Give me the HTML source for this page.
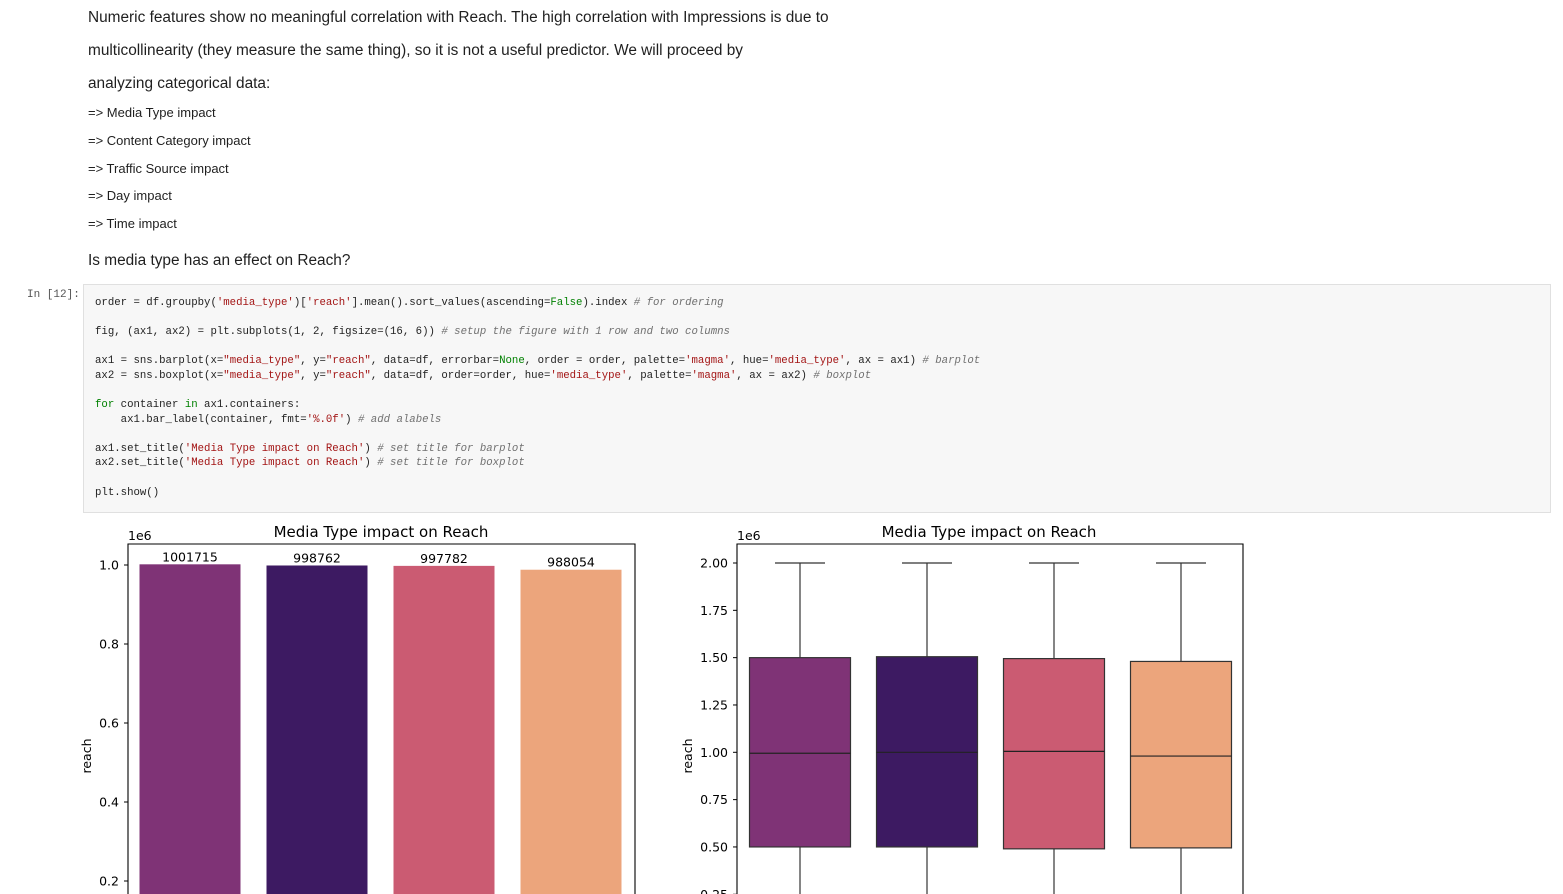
<!DOCTYPE html>
<html><head><meta charset="utf-8">
<style>
body{margin:0;width:1563px;height:894px;overflow:hidden;background:#fff;font-family:"Liberation Sans",sans-serif;color:#1f1f1f;position:relative}
.t{position:absolute;left:88px;white-space:nowrap}
.p{font-size:15.4px}
.li{font-size:13px}
#prompt{position:absolute;left:27px;top:289px;font-family:"Liberation Mono",monospace;font-size:11px;color:#555}
#cell{position:absolute;left:83px;top:284px;width:1466px;height:227px;background:#f7f7f7;border:1px solid #e0e0e0;overflow:hidden}
.c{position:absolute;left:11px;font-family:"Liberation Mono",monospace;font-size:10.7px;white-space:pre;color:#222}
.s{color:#a31515}.k{color:#008000}.cm{color:#707070;font-style:italic}.kw{color:#008000}
svg{position:absolute;left:0;top:0}
</style></head><body>
<div class="t p" style="top:9px">Numeric features show no meaningful correlation with Reach. The high correlation with Impressions is due to</div>
<div class="t p" style="top:42px">multicollinearity (they measure the same thing), so it is not a useful predictor. We will proceed by</div>
<div class="t p" style="top:75px">analyzing categorical data:</div>
<div class="t li" style="top:105px">=&gt; Media Type impact</div>
<div class="t li" style="top:133px">=&gt; Content Category impact</div>
<div class="t li" style="top:161px">=&gt; Traffic Source impact</div>
<div class="t li" style="top:188px">=&gt; Day impact</div>
<div class="t li" style="top:216px">=&gt; Time impact</div>
<div class="t p" style="top:252px">Is media type has an effect on Reach?</div>
<div id="prompt">In [12]:</div>
<div id="cell">
<div class="c" style="top:12px">order = df.groupby(<span class="s">'media_type'</span>)[<span class="s">'reach'</span>].mean().sort_values(ascending=<span class="k">False</span>).index <span class="cm"># for ordering</span></div>
<div class="c" style="top:41px">fig, (ax1, ax2) = plt.subplots(1, 2, figsize=(16, 6)) <span class="cm"># setup the figure with 1 row and two columns</span></div>
<div class="c" style="top:70px">ax1 = sns.barplot(x=<span class="s">"media_type"</span>, y=<span class="s">"reach"</span>, data=df, errorbar=<span class="k">None</span>, order = order, palette=<span class="s">'magma'</span>, hue=<span class="s">'media_type'</span>, ax = ax1) <span class="cm"># barplot</span></div>
<div class="c" style="top:85px">ax2 = sns.boxplot(x=<span class="s">"media_type"</span>, y=<span class="s">"reach"</span>, data=df, order=order, hue=<span class="s">'media_type'</span>, palette=<span class="s">'magma'</span>, ax = ax2) <span class="cm"># boxplot</span></div>
<div class="c" style="top:114px"><span class="kw">for</span> container <span class="kw">in</span> ax1.containers:</div>
<div class="c" style="top:129px">    ax1.bar_label(container, fmt=<span class="s">'%.0f'</span>) <span class="cm"># add alabels</span></div>
<div class="c" style="top:158px">ax1.set_title(<span class="s">'Media Type impact on Reach'</span>) <span class="cm"># set title for barplot</span></div>
<div class="c" style="top:172px">ax2.set_title(<span class="s">'Media Type impact on Reach'</span>) <span class="cm"># set title for boxplot</span></div>
<div class="c" style="top:202px">plt.show()</div>
</div>
<svg id="chart" width="1563" height="894"></svg>
<script>
const colors=["#7f3376","#3d1a62","#cb5b72","#eca57c"];
const barValues=[1001715,998762,997782,988054];
const barTicks=[0.2,0.4,0.6,0.8,1.0];
const boxQ1=[500000,500000,490000,495000];
const boxMedian=[995000,1000000,1005000,980000];
const boxQ3=[1500000,1505000,1495000,1480000];
const boxWhiskerHi=[2000000,2000000,2000000,2000000];
const boxWhiskerLo=[0,0,0,0];
const boxTicks=[0.25,0.5,0.75,1.0,1.25,1.5,1.75,2.0];
const boxTickLabels=["0.25","0.50","0.75","1.00","1.25","1.50","1.75","2.00"];
const NS="http://www.w3.org/2000/svg";
const svg=document.getElementById('chart');
function mk(tag,attrs,parent){const e=document.createElementNS(NS,tag);for(const k in attrs)e.setAttribute(k,attrs[k]);(parent||svg).appendChild(e);return e;}
const F='"DejaVu Sans",sans-serif';
const defs=mk('defs',{});
const cp1=mk('clipPath',{id:'c1'},defs);mk('rect',{x:128,y:544,width:507,height:350},cp1);
const cp2=mk('clipPath',{id:'c2'},defs);mk('rect',{x:737,y:544,width:506,height:350},cp2);
const bx=i=>190+i*127;
const by=v=>565-(v/1e6-1.0)*395;
const g1=mk('g',{'clip-path':'url(#c1)'});
barValues.forEach((v,i)=>{
 const r=mk('rect',{x:bx(i)-50.5,y:by(v),width:101,height:960-by(v),fill:colors[i]},g1);
 
 
 const t=mk('text',{x:bx(i),y:by(v)-3,'text-anchor':'middle','font-size':12.5,'font-family':F,fill:'#000'});
 t.textContent=String(v);
 
 
});
mk('polyline',{points:'128,894 128,544 635,544 635,894',fill:'none',stroke:'#000','stroke-width':1.1});
function txt(x,y,s,size,name,extra){const e=mk('text',Object.assign({x:x,y:y,'font-size':size,'font-family':F,fill:'#000'},extra||{}));e.textContent=s;return e;}
barTicks.forEach(t=>{
 const y=by(t*1e6);
 mk('line',{x1:124,x2:128,y1:y,y2:y,stroke:'#000'});
 txt(119,y+4.5,t.toFixed(1),12.5,'bar-y-tick',{'text-anchor':'end'});
});
txt(128,540,'1e6',12.5,'bar-offset-label');
txt(381,537,'Media Type impact on Reach',15,'bar-title',{'text-anchor':'middle'});
txt(91,756,'reach',12.5,'bar-y-title',{'text-anchor':'middle',transform:'rotate(-90 91 756)'});
const qx=i=>800+i*127;
const qy=v=>563-(v/1e6-2)*189.3;
const g2=mk('g',{'clip-path':'url(#c2)'});
boxQ1.forEach((q1,i)=>{
 const x=qx(i),c='#333';
 mk('line',{x1:x,x2:x,y1:qy(boxWhiskerHi[i]),y2:qy(boxQ3[i]),stroke:c,'stroke-width':1.2},g2);
 mk('line',{x1:x-25,x2:x+25,y1:qy(boxWhiskerHi[i]),y2:qy(boxWhiskerHi[i]),stroke:c,'stroke-width':1.2},g2);
 mk('line',{x1:x,x2:x,y1:qy(q1),y2:qy(boxWhiskerLo[i]),stroke:c,'stroke-width':1.2},g2);
 const b=mk('rect',{x:x-50.5,y:qy(boxQ3[i]),width:101,height:qy(q1)-qy(boxQ3[i]),fill:colors[i],stroke:c,'stroke-width':1.2},g2);
 
 
 mk('line',{x1:x-50.5,x2:x+50.5,y1:qy(boxMedian[i]),y2:qy(boxMedian[i]),stroke:'#222','stroke-width':1.2},g2);
});
mk('polyline',{points:'737,894 737,544 1243,544 1243,894',fill:'none',stroke:'#000','stroke-width':1.1});
boxTicks.forEach((t,k)=>{
 const y=qy(t*1e6);
 mk('line',{x1:733,x2:737,y1:y,y2:y,stroke:'#000'});
 txt(728,y+4.5,boxTickLabels[k],12.5,'box-y-tick',{'text-anchor':'end'});
});
txt(737,540,'1e6',12.5,'box-offset-label');
txt(989,537,'Media Type impact on Reach',15,'box-title',{'text-anchor':'middle'});
txt(692,756,'reach',12.5,'box-y-title',{'text-anchor':'middle',transform:'rotate(-90 692 756)'});
</script>
</body></html>
